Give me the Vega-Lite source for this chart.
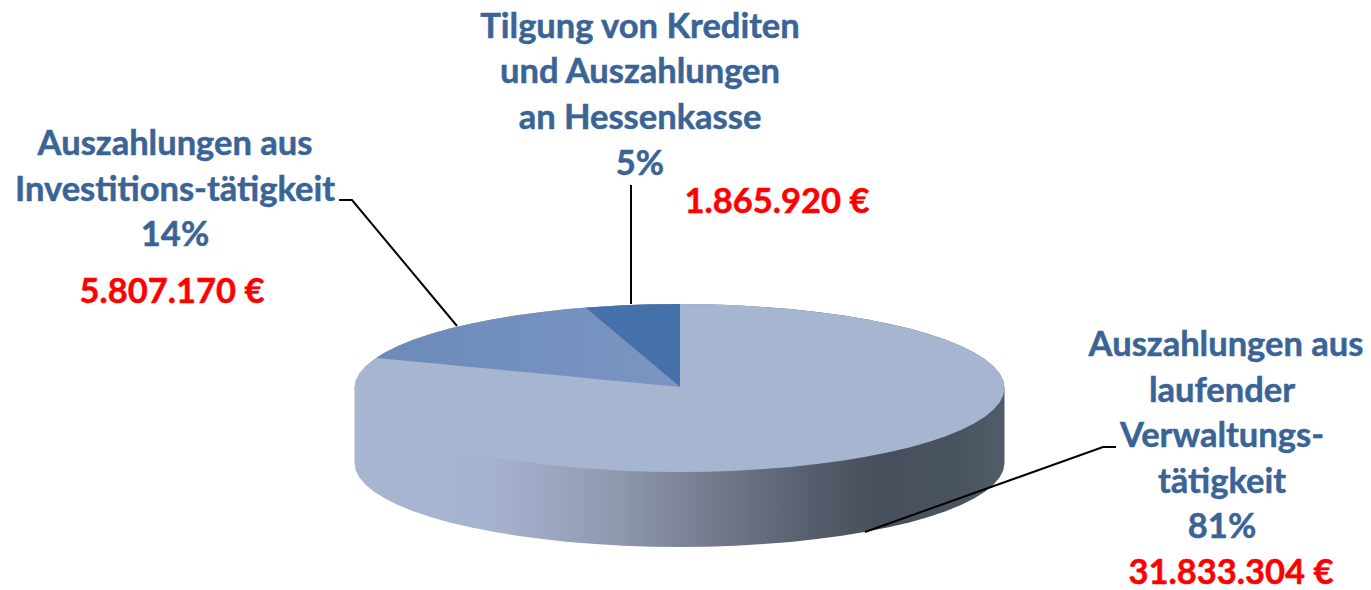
{"$schema":"https://vega.github.io/schema/vega-lite/v6.json","width":1371,"height":590,"padding":0,"autosize":{"type":"none"},"background":"#ffffff","config":{"view":{"stroke":null}},
"datasets":{
"rim":[{"x":354.5,"top":388,"bottom":388,"base":463},{"x":355.7,"top":380.7,"bottom":395.3,"base":470.3},{"x":359.4,"top":373.4,"bottom":402.6,"base":477.6},{"x":365.6,"top":366.3,"bottom":409.7,"base":484.7},{"x":374.1,"top":359.3,"bottom":416.7,"base":491.7},{"x":385,"top":352.5,"bottom":423.5,"base":498.5},{"x":398,"top":346,"bottom":430,"base":505},{"x":413.3,"top":339.8,"bottom":436.2,"base":511.2},{"x":430.5,"top":334,"bottom":442,"base":517},{"x":449.7,"top":328.6,"bottom":447.4,"base":522.4},{"x":470.6,"top":323.7,"bottom":452.3,"base":527.3},{"x":493.1,"top":319.2,"bottom":456.8,"base":531.8},{"x":517,"top":315.3,"bottom":460.7,"base":535.7},{"x":542.2,"top":311.9,"bottom":464.1,"base":539.1},{"x":568.3,"top":309.1,"bottom":466.9,"base":541.9},{"x":595.4,"top":306.9,"bottom":469.1,"base":544.1},{"x":623.1,"top":305.3,"bottom":470.7,"base":545.7},{"x":651.2,"top":304.3,"bottom":471.7,"base":546.7},{"x":679.5,"top":304,"bottom":472,"base":547},{"x":707.8,"top":304.3,"bottom":471.7,"base":546.7},{"x":735.9,"top":305.3,"bottom":470.7,"base":545.7},{"x":763.6,"top":306.9,"bottom":469.1,"base":544.1},{"x":790.7,"top":309.1,"bottom":466.9,"base":541.9},{"x":816.8,"top":311.9,"bottom":464.1,"base":539.1},{"x":842,"top":315.3,"bottom":460.7,"base":535.7},{"x":865.9,"top":319.2,"bottom":456.8,"base":531.8},{"x":888.4,"top":323.7,"bottom":452.3,"base":527.3},{"x":909.3,"top":328.6,"bottom":447.4,"base":522.4},{"x":928.5,"top":334,"bottom":442,"base":517},{"x":945.7,"top":339.8,"bottom":436.2,"base":511.2},{"x":961,"top":346,"bottom":430,"base":505},{"x":974,"top":352.5,"bottom":423.5,"base":498.5},{"x":984.9,"top":359.3,"bottom":416.7,"base":491.7},{"x":993.4,"top":366.3,"bottom":409.7,"base":484.7},{"x":999.6,"top":373.4,"bottom":402.6,"base":477.6},{"x":1003.3,"top":380.7,"bottom":395.3,"base":470.3},{"x":1004.5,"top":388,"bottom":388,"base":463}],
"invest":[{"x":376,"top":358,"bottom":358},{"x":385,"top":352.5,"bottom":358.8},{"x":398,"top":346,"bottom":360},{"x":413.3,"top":339.8,"bottom":361.5},{"x":430.5,"top":334,"bottom":363.1},{"x":449.7,"top":328.6,"bottom":365},{"x":470.6,"top":323.7,"bottom":367},{"x":493.1,"top":319.2,"bottom":369.1},{"x":517,"top":315.3,"bottom":371.4},{"x":542.2,"top":311.9,"bottom":373.8},{"x":568.3,"top":309.1,"bottom":376.3},{"x":586,"top":307.6,"bottom":378},{"x":595.4,"top":315.9,"bottom":378.9},{"x":623.1,"top":339.2,"bottom":381.5},{"x":651.2,"top":362.8,"bottom":384.2},{"x":680,"top":387,"bottom":387}],
"credit":[{"x":586,"top":307.6,"bottom":308},{"x":595.4,"top":306.9,"bottom":315.9},{"x":623.1,"top":305.3,"bottom":339.2},{"x":651.2,"top":304.3,"bottom":362.8},{"x":680,"top":304,"bottom":387}],
"leaders":[{"id":"invest","seq":1,"x":339,"y":200},{"id":"invest","seq":2,"x":352,"y":200},{"id":"invest","seq":3,"x":457,"y":326},{"id":"credit","seq":1,"x":631,"y":185},{"id":"credit","seq":2,"x":631,"y":304},{"id":"admin","seq":1,"x":865,"y":532},{"id":"admin","seq":2,"x":1103,"y":447},{"id":"admin","seq":3,"x":1116,"y":447}],
"labels":[{"text":"Tilgung von Krediten","x":640,"y":38},{"text":"und Auszahlungen","x":640,"y":83},{"text":"an Hessenkasse","x":640,"y":129},{"text":"5%","x":640,"y":175},{"text":"Auszahlungen aus","x":175,"y":155},{"text":"Investitions-tätigkeit","x":175,"y":201},{"text":"14%","x":175,"y":246},{"text":"Auszahlungen aus","x":1226,"y":356},{"text":"laufender","x":1222,"y":402},{"text":"Verwaltungs-","x":1222,"y":447},{"text":"tätigkeit","x":1222,"y":493},{"text":"81%","x":1222,"y":538}],
"amounts":[{"text":"1.865.920 €","amount":1865920,"x":777,"y":213},{"text":"5.807.170 €","amount":5807170,"x":172,"y":303},{"text":"31.833.304 €","amount":31833304,"x":1231,"y":584}]
},
"encoding":{"x":{"field":"x","type":"quantitative","scale":{"domain":[0,1371],"nice":false,"zero":false},"axis":null}},
"layer":[
{"data":{"name":"rim"},"mark":{"type":"area","fill":{"gradient":"linear","x1":0,"x2":1,"y1":0,"y2":0,"stops":[{"offset":0,"color":"#a6b6d1"},{"offset":0.2,"color":"#a6b3cf"},{"offset":0.3,"color":"#9ca7c2"},{"offset":0.4,"color":"#8f9ab0"},{"offset":0.5,"color":"#7f8598"},{"offset":0.6,"color":"#6b7182"},{"offset":0.72,"color":"#535a69"},{"offset":0.8,"color":"#484f5c"},{"offset":0.92,"color":"#49535f"},{"offset":1,"color":"#515c6a"}]}},"encoding":{"y":{"field":"top","type":"quantitative","scale":{"domain":[590,0],"nice":false,"zero":false},"axis":null},"y2":{"field":"base"}}},
{"data":{"name":"rim"},"mark":{"type":"area","fill":"#a6b6d0"},"encoding":{"y":{"field":"top","type":"quantitative","scale":{"domain":[590,0],"nice":false,"zero":false},"axis":null},"y2":{"field":"bottom"}}},
{"data":{"name":"invest"},"mark":{"type":"area","fill":{"gradient":"linear","x1":0,"x2":1,"y1":0,"y2":0,"stops":[{"offset":0,"color":"#6b8aba"},{"offset":1,"color":"#7c95c2"}]}},"encoding":{"y":{"field":"top","type":"quantitative","scale":{"domain":[590,0],"nice":false,"zero":false},"axis":null},"y2":{"field":"bottom"}}},
{"data":{"name":"credit"},"mark":{"type":"area","fill":"#4571aa"},"encoding":{"y":{"field":"top","type":"quantitative","scale":{"domain":[590,0],"nice":false,"zero":false},"axis":null},"y2":{"field":"bottom"}}},
{"data":{"name":"leaders"},"mark":{"type":"line","stroke":"#000000","strokeWidth":2},"encoding":{"y":{"field":"y","type":"quantitative","scale":{"domain":[590,0],"nice":false,"zero":false},"axis":null},"detail":{"field":"id"},"order":{"field":"seq"}}},
{"data":{"name":"labels"},"mark":{"type":"text","font":"Lato","fontWeight":"bold","fontSize":34.5,"fill":"#3a6496","stroke":"#3a6496","strokeWidth":0.5,"align":"center","baseline":"alphabetic"},"encoding":{"y":{"field":"y","type":"quantitative","scale":{"domain":[590,0],"nice":false,"zero":false},"axis":null},"text":{"field":"text"}}},
{"data":{"name":"amounts"},"mark":{"type":"text","font":"Lato","fontWeight":"bold","fontSize":34.5,"fill":"#ff0000","stroke":"#ff0000","strokeWidth":0.5,"align":"center","baseline":"alphabetic"},"encoding":{"y":{"field":"y","type":"quantitative","scale":{"domain":[590,0],"nice":false,"zero":false},"axis":null},"text":{"field":"text"}}}
]}
